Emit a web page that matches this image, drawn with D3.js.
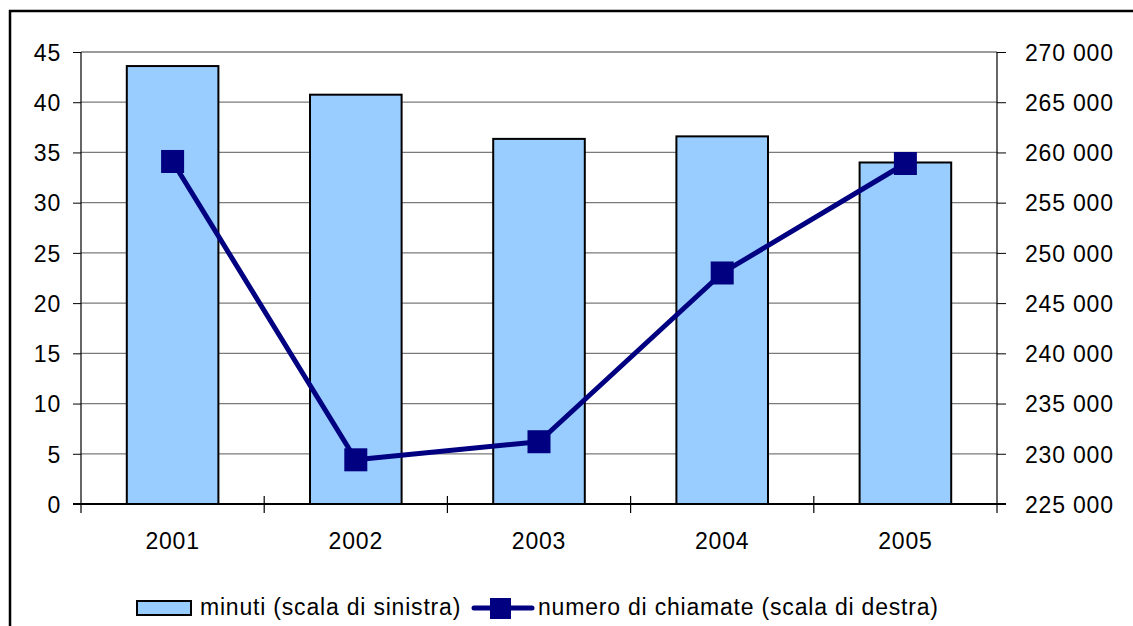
<!DOCTYPE html>
<html>
<head>
<meta charset="utf-8">
<script src="https://cdn.jsdelivr.net/npm/d3@7"></script>
<style>
  body { margin: 0; background: #fff; }
  text { font-family: "Liberation Sans", Arial, sans-serif; font-size: 23px; letter-spacing: 0.8px; fill: #000; }
</style>
</head>
<body>
<div id="chart"></div>
<script>
// data
const years = ['2001', '2002', '2003', '2004', '2005'];
const minuti = [43.6, 40.75, 36.35, 36.6, 34.0];
const chiamate = [259100, 229400, 231200, 248000, 258900];
const leftTicks = [0, 5, 10, 15, 20, 25, 30, 35, 40, 45];
const rightTicks = [225000, 230000, 235000, 240000, 245000, 250000, 255000, 260000, 265000, 270000];
const legendLabels = ['minuti (scala di sinistra)', 'numero di chiamate (scala di destra)'];

const W = 1133, H = 626;
const plot = {left: 81, right: 997, top: 52, bottom: 504};
const barFill = '#99ccff', lineCol = '#000080';

let svg = d3.select('#chart').append('svg')
    .attr('width', W).attr('height', H);

// outer frame (runs off the right and bottom edges)
svg.append('rect')
    .attr('x', 10).attr('y', 11)
    .attr('width', W + 20).attr('height', H + 20)
    .attr('fill', 'none').attr('stroke', '#000').attr('stroke-width', 2.5);

let x = d3.scaleBand().domain(years)
    .range([plot.left, plot.right])
    .paddingInner(0.5).paddingOuter(0.25);
let yL = d3.scaleLinear().domain([0, 45]).range([plot.bottom, plot.top]);
let yR = d3.scaleLinear().domain([225000, 270000]).range([plot.bottom, plot.top]);

let it = d3.formatLocale({decimal: ',', thousands: ' ', grouping: [3], currency: ['', '€']});
let fmtR = it.format(',');

// gridlines
svg.append('g').selectAll('line')
    .data(leftTicks.filter(d => d > 0))
    .enter().append('line')
    .attr('x1', plot.left).attr('x2', plot.right)
    .attr('y1', d => yL(d)).attr('y2', d => yL(d))
    .attr('stroke', '#7a7a7a').attr('stroke-width', 1.3);

// bars
svg.append('g').selectAll('rect')
    .data(minuti)
    .enter().append('rect')
    .attr('x', (d, i) => x(years[i]))
    .attr('y', d => yL(d))
    .attr('width', x.bandwidth())
    .attr('height', d => yL(0) - yL(d))
    .attr('fill', barFill)
    .attr('stroke', '#000').attr('stroke-width', 2);

// left / right axes
let axL = svg.append('g')
    .attr('transform', `translate(${plot.left},0)`)
    .call(d3.axisLeft(yL).tickValues(leftTicks).tickSize(8).tickSizeOuter(0).tickPadding(12));
let axR = svg.append('g')
    .attr('transform', `translate(${plot.right},0)`)
    .call(d3.axisRight(yR).tickValues(rightTicks).tickFormat(fmtR).tickSize(9).tickSizeOuter(0).tickPadding(19));

[axL, axR].forEach(ax => {
    ax.select('.domain').remove();
    ax.selectAll('line').attr('stroke', '#000').attr('stroke-width', 1);
    ax.selectAll('text').attr('dy', '0.36em');
    ax.attr('font-family', null).attr('font-size', null);
});
// vertical axis lines, a bit past the baseline
svg.append('g').selectAll('line')
    .data([plot.left, plot.right])
    .enter().append('line')
    .attr('x1', d => d).attr('x2', d => d)
    .attr('y1', plot.top).attr('y2', plot.bottom + 9)
    .attr('stroke', '#000').attr('stroke-width', 1.2);

// x axis baseline + cross ticks between categories
svg.append('line')
    .attr('x1', plot.left - 8).attr('x2', plot.right + 9)
    .attr('y1', plot.bottom).attr('y2', plot.bottom)
    .attr('stroke', '#000').attr('stroke-width', 2);
svg.append('g').selectAll('line')
    .data(years.slice(1))
    .enter().append('line')
    .attr('x1', c => x(c) - (x.step() - x.bandwidth()) / 2)
    .attr('x2', c => x(c) - (x.step() - x.bandwidth()) / 2)
    .attr('y1', plot.bottom - 8).attr('y2', plot.bottom + 9)
    .attr('stroke', '#000').attr('stroke-width', 1.2);
svg.append('g').selectAll('text')
    .data(years)
    .enter().append('text')
    .attr('x', d => x(d) + x.bandwidth() / 2)
    .attr('y', plot.bottom + 45)
    .attr('text-anchor', 'middle')
    .text(d => d);

// line series
let line = d3.line()
    .x((d, i) => x(years[i]) + x.bandwidth() / 2)
    .y(d => yR(d));
svg.append('path')
    .datum(chiamate)
    .attr('d', line)
    .attr('fill', 'none')
    .attr('stroke', lineCol).attr('stroke-width', 5)
    .attr('stroke-linejoin', 'round');
const ms = 23;
svg.append('g').selectAll('rect')
    .data(chiamate)
    .enter().append('rect')
    .attr('x', (d, i) => x(years[i]) + x.bandwidth() / 2 - ms / 2)
    .attr('y', d => yR(d) - ms / 2)
    .attr('width', ms).attr('height', ms)
    .attr('fill', lineCol);

// legend
let lg = svg.append('g');
lg.append('rect')
    .attr('x', 137).attr('y', 601).attr('width', 54).attr('height', 14)
    .attr('fill', barFill).attr('stroke', '#000').attr('stroke-width', 2);
lg.append('text').attr('x', 200).attr('y', 615).text(legendLabels[0]);
lg.append('line')
    .attr('x1', 474).attr('x2', 532).attr('y1', 608).attr('y2', 608)
    .attr('stroke', lineCol).attr('stroke-width', 5).attr('stroke-linecap', 'round');
lg.append('rect')
    .attr('x', 490).attr('y', 598).attr('width', 21).attr('height', 21)
    .attr('fill', lineCol);
lg.append('text').attr('x', 538).attr('y', 615).text(legendLabels[1]);
</script>
</body>
</html>
